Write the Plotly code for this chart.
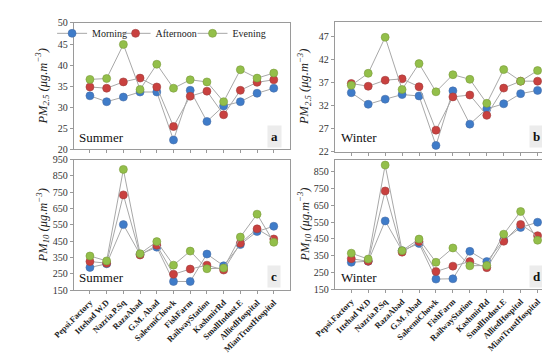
import plotly.graph_objects as go

sites = ["Pepsi.Factory", "Ittehad W.D", "Nazria.P.Sq", "RazaAbad", "G.M. Abad", "SaleemiChowk",
         "FishFarm", "RailwayStation", "KashmirRd", "SmallIndust.E", "AlliedHospital", "MianTrustHospital"]
series_names = ["Morning", "Afternoon", "Evening"]

pm25_summer_morning = [32.7, 31.3, 32.4, 33.6, 33.6, 22.2, 34.0, 26.6, 30.3, 31.3, 33.3, 34.5]
pm25_summer_afternoon = [34.8, 34.5, 36.0, 36.9, 34.8, 25.4, 32.6, 33.8, 28.2, 34.0, 35.9, 36.5]
pm25_summer_evening = [36.6, 36.8, 44.9, 34.2, 40.2, 34.5, 36.5, 36.0, 31.3, 38.9, 36.9, 38.1]

pm25_winter_morning = [34.8, 32.3, 33.4, 34.4, 34.1, 23.4, 35.2, 28.0, 31.3, 32.4, 34.6, 35.3]
pm25_winter_afternoon = [36.8, 36.2, 37.5, 37.8, 36.1, 26.7, 33.9, 34.3, 29.9, 35.8, 37.3, 37.3]
pm25_winter_evening = [36.4, 39.0, 46.8, 35.5, 41.1, 35.0, 38.7, 37.7, 32.5, 39.8, 37.3, 39.6]

pm10_summer_morning = [290, 312, 552, 370, 414, 204, 204, 372, 300, 430, 510, 542]
pm10_summer_afternoon = [326, 316, 734, 366, 426, 248, 280, 304, 274, 438, 526, 464]
pm10_summer_evening = [360, 330, 890, 374, 448, 304, 390, 282, 286, 476, 616, 444]

pm10_winter_morning = [311, 317, 557, 380, 423, 211, 213, 376, 315, 442, 518, 549]
pm10_winter_afternoon = [332, 317, 735, 371, 434, 256, 288, 315, 279, 436, 536, 469]
pm10_winter_evening = [365, 330, 889, 380, 449, 311, 396, 290, 292, 478, 613, 442]

ticks_a = [20, 25, 30, 35, 40, 45, 50]
ticks_b = [22, 27, 32, 37, 42, 47]
ticks_c = [150, 250, 350, 450, 550, 650, 750, 850, 950]
ticks_d = [150, 250, 350, 450, 550, 650, 750, 850]

colors = ["#3f7cc9", "#c9413f", "#93bf4a"]
line_colors = ["#4a6ea8", "#a04040", "#7a9a3a"]
legend_ids = ["legend", "legend2", "legend3"]
FONT = "Liberation Serif"
W, H = 550, 354

fig = go.Figure()

panels = [
    ("x", "y", [pm25_summer_morning, pm25_summer_afternoon, pm25_summer_evening], True),
    ("x2", "y2", [pm25_winter_morning, pm25_winter_afternoon, pm25_winter_evening], False),
    ("x3", "y3", [pm10_summer_morning, pm10_summer_afternoon, pm10_summer_evening], False),
    ("x4", "y4", [pm10_winter_morning, pm10_winter_afternoon, pm10_winter_evening], False),
]
for xa, ya, data, showleg in panels:
    for i, vals in enumerate(data):
        fig.add_trace(go.Scatter(
            x=list(range(len(sites))), y=vals, xaxis=xa, yaxis=ya,
            mode="lines+markers", name=series_names[i], showlegend=showleg,
            legend=legend_ids[i],
            line=dict(color="#a8a8a8", width=1),
            marker=dict(size=8, color=colors[i], line=dict(color=line_colors[i], width=0.6)),
        ))

def px_x(p):
    return p / W

def px_y(p):
    return 1 - p / H

doms = {
    "a": ([px_x(46.5), px_x(271)], [px_y(140), px_y(9.3)]),
    "b": ([px_x(318), px_x(545.5)], [px_y(142.7), px_y(8.3)]),
    "c": ([px_x(46.5), px_x(271)], [px_y(286), px_y(150.7)]),
    "d": ([px_x(318), px_x(545.5)], [px_y(285), px_y(151)]),
}

axcommon = dict(showline=True, linecolor="#9a9a9a", linewidth=1, mirror=True,
                showgrid=False, zeroline=False, ticks="outside", ticklen=3,
                tickcolor="#9a9a9a", tickfont=dict(family=FONT, size=10, color="#333"))

def xaxis(dom, labels):
    d = dict(axcommon)
    d.update(domain=dom, range=[-0.97, 11.95], tickmode="array",
             tickvals=list(range(len(sites))),
             ticktext=sites if labels else [""] * len(sites))
    if labels:
        d.update(tickangle=-45, tickfont=dict(family=FONT, size=8.5, color="#222", weight="bold"))
    return d

def yaxis(dom, rng, tv, anchor):
    d = dict(axcommon)
    d.update(domain=dom, range=rng, tickmode="array", tickvals=tv, anchor=anchor)
    return d

def leg(marker_px):
    return dict(orientation="h", x=px_x(marker_px - 46), y=px_y(5), xanchor="left", yanchor="top",
                bgcolor="rgba(0,0,0,0)", font=dict(family=FONT, size=10, color="#222"),
                itemwidth=30)

fig.update_layout(
    width=W, height=H, margin=dict(l=0, r=0, t=0, b=0),
    paper_bgcolor="white", plot_bgcolor="white",
    xaxis=dict(xaxis(doms["a"][0], False), anchor="y"),
    yaxis=yaxis(doms["a"][1], [20, 50], ticks_a, "x"),
    xaxis2=dict(xaxis(doms["b"][0], False), anchor="y2"),
    yaxis2=yaxis(doms["b"][1], [22, 50.1], ticks_b, "x2"),
    xaxis3=dict(xaxis(doms["c"][0], True), anchor="y3"),
    yaxis3=yaxis(doms["c"][1], [150, 950], ticks_c, "x3"),
    xaxis4=dict(xaxis(doms["d"][0], True), anchor="y4"),
    yaxis4=yaxis(doms["d"][1], [150, 920], ticks_d, "x4"),
    legend=leg(70),
    legend2=leg(136),
    legend3=leg(216),
    showlegend=True,
)

ann = []
titles = [
    (14, (9.3 + 140) / 2, "<i>PM<sub>2.5</sub> (μg.m<sup>−3</sup>)</i>"),
    (286, (8.3 + 142.7) / 2, "<i>PM<sub>2.5</sub> (μg.m<sup>−3</sup>)</i>"),
    (14, (150.7 + 286) / 2, "<i>PM<sub>10</sub> (μg.m<sup>−3</sup>)</i>"),
    (286, (151 + 285) / 2, "<i>PM<sub>10</sub> (μg.m<sup>−3</sup>)</i>"),
]
for xp, yp, t in titles:
    ann.append(dict(x=px_x(xp), y=px_y(yp), xref="paper", yref="paper", text=t,
                    textangle=-90, showarrow=False, font=dict(family=FONT, size=12.5, color="#222"),
                    xanchor="center", yanchor="middle"))

seasons = [(50, 128, "Summer"), (322, 128, "Winter"), (50, 273, "Summer"), (322, 273, "Winter")]
for xp, yp, t in seasons:
    ann.append(dict(x=px_x(xp), y=px_y(yp), xref="paper", yref="paper", text=t,
                    showarrow=False, font=dict(family=FONT, size=13, color="#111"),
                    xanchor="left", yanchor="middle"))

letters = [(255, 127, "a"), (528, 127, "b"), (255, 272, "c"), (528, 272, "d")]
for xp, yp, t in letters:
    ann.append(dict(x=px_x(xp), y=px_y(yp), xref="paper", yref="paper", text="<b>" + t + "</b>",
                    showarrow=False, font=dict(family=FONT, size=13, color="#111"),
                    bgcolor="#ececec", borderpad=3, xanchor="center", yanchor="middle"))

fig.update_layout(annotations=ann)
fig.write_html("out.html")
